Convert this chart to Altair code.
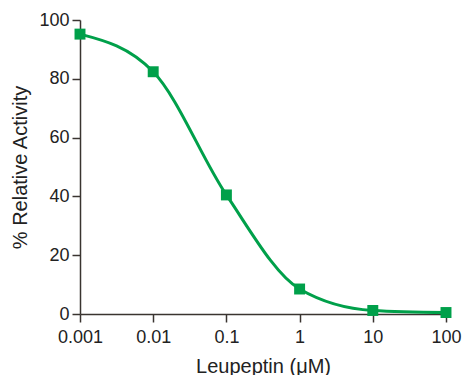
import altair as alt
import pandas as pd

conc = [0.001, 0.01, 0.1, 1, 10, 100]
activity = [95.2, 82.4, 40.5, 8.5, 1.2, 0.5]
x_ticks = [0.001, 0.01, 0.1, 1, 10, 100]
y_ticks = [0, 20, 40, 60, 80, 100]

df = pd.DataFrame({"conc": conc, "activity": activity})

GREEN = "#00a04a"
AXIS = "#3a3430"
FONT = "Liberation Sans, Arial"

x = alt.X("conc:Q", scale=alt.Scale(type="log", domain=[0.001, 100]),
          axis=alt.Axis(values=x_ticks, labelExpr="datum.value >= 1 ? format(datum.value, 'd') : format(datum.value, '.3~f')",
                        title="Leupeptin (\u03bcM)", grid=False, tickSize=8, labelPadding=6,
                        labelFlush=False, labelOverlap=False, titlePadding=10))
y = alt.Y("activity:Q", scale=alt.Scale(domain=[0, 100]),
          axis=alt.Axis(values=y_ticks, title="% Relative Activity", grid=False, tickSize=8,
                        labelPadding=3, labelFlush=False, labelOverlap=False, titlePadding=8))

line = alt.Chart(df).mark_line(color=GREEN, strokeWidth=3, interpolate="monotone").encode(x=x, y=y)
pts = alt.Chart(df).mark_square(color=GREEN, size=120, opacity=1).encode(x=x, y=y)

chart = (line + pts).properties(
    width=366, height=294,
    autosize=alt.AutoSizeParams(type="none"),
    padding={"left": 72, "top": 12, "right": 18, "bottom": 61},
).configure_view(stroke=None).configure_axis(
    domainColor=AXIS, tickColor=AXIS, domainWidth=1.5, tickWidth=1.5,
    labelFont=FONT, titleFont=FONT, labelFontSize=18, titleFontSize=20,
    labelColor="#222", titleColor="#222", titleFontWeight="normal",
)

chart.save("out.html", embed_options={"renderer": "svg", "actions": False})
